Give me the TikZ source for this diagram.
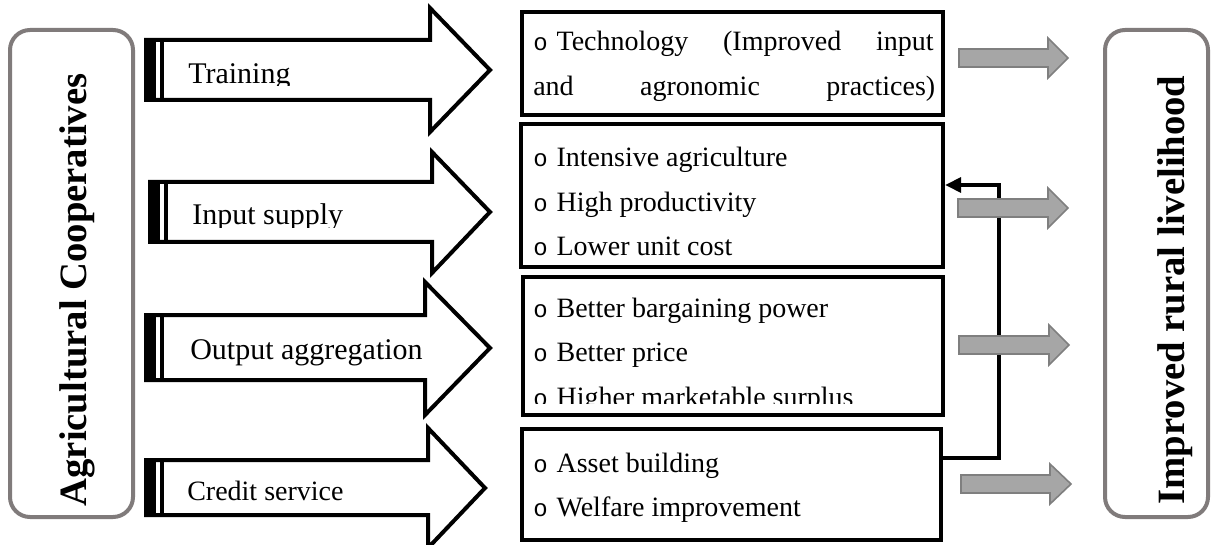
\documentclass[tikz,border=0pt]{standalone}
\usepackage{fontspec}
\setmainfont{Liberation Serif}
\newfontfamily\monofont{Liberation Mono}
\usetikzlibrary{arrows.meta,fit}
\definecolor{sidegray}{RGB}{128,123,123}
\definecolor{arrowfill}{RGB}{166,166,166}
\definecolor{arrowedge}{RGB}{127,127,127}
\newcommand\cbul{\makebox[17.5pt][l]{\fontsize{18pt}{18pt}\monofont o}}

\begin{document}
\begin{tikzpicture}[
  x=0.75pt, y=-0.75pt,
  line cap=butt, line join=miter,
  bigarrow/.style={draw=black, line width=3pt, fill=white},
  infobox/.style={draw=black, line width=3pt, inner sep=0pt},
  sidebox/.style={draw=sidegray, line width=3pt, rounded corners=15pt, inner sep=0pt},
  grayarrow/.style={draw=arrowedge, fill=arrowfill, line width=1.2pt},
  fb/.style={line width=2.8pt, -{Triangle[length=12pt,width=11pt]}},
  lbl/.style={anchor=base west, font=\fontsize{22.5pt}{22.5pt}\selectfont},
  item/.style={anchor=base west},
  sidetxt/.style={rotate=90, font=\bfseries\fontsize{29pt}{29pt}\selectfont},
  every node/.style={inner sep=0pt, font=\fontsize{21pt}{21pt}\selectfont}
]
  \useasboundingbox (0,0) rectangle (1213,545);
  % ---- 两侧圆角框 ----
  \node[sidebox, fit={(10,30) (133,517)}] (coopbox) {};
  \node[sidetxt] (coop) at (77,290) {Agricultural Cooperatives};
  \node[sidebox, fit={(1105,30) (1208,517)}] (livbox) {};
  \node[sidetxt] (liv) at (1175,290) {Improved rural livelihood};
  % ---- 大箭头（左端双竖条） ----
  \draw[bigarrow] (146,40) -- (430,40) -- (430,8) -- (490,70) -- (430,132) -- (430,100) -- (146,100) -- cycle;
  \fill (146,40) rectangle (156,100);
  \fill (160,40) rectangle (164,100);
  \draw[bigarrow] (150,182) -- (432,182) -- (432,152) -- (490,212) -- (432,273) -- (432,242) -- (150,242) -- cycle;
  \fill (150,182) rectangle (160,242);
  \fill (164,182) rectangle (168,242);
  \draw[bigarrow] (146,315) -- (425,315) -- (425,282) -- (490,348) -- (425,415) -- (425,380) -- (146,380) -- cycle;
  \fill (146,315) rectangle (156,380);
  \fill (160,315) rectangle (164,380);
  \draw[bigarrow] (146,460) -- (428,460) -- (428,428) -- (485,488) -- (428,548) -- (428,515) -- (146,515) -- cycle;
  \fill (146,460) rectangle (156,515);
  \fill (160,460) rectangle (164,515);
  % ---- 箭头文字 ----
  \begin{scope}
    \clip (150,40) rectangle (425,86);
    \node[lbl] (training) at (188,84) {Training};
  \end{scope}
  \begin{scope}
    \clip (170,182) rectangle (425,228);
    \node[lbl] (input) at (192,225) {Input supply};
  \end{scope}
  \node[lbl] (output) at (190,359) {Output aggregation};
  \node[anchor=base west] (credit) at (187,500) {Credit service};
  % ---- 结果框 ----
  \node[infobox, fit={(522,12) (943,115)}] (techbox) {};
  \node[item] (tech1) at (533,51) {\cbul\makebox[282.75pt][s]{Technology (Improved input}};
  \node[item] (tech2) at (533,96) {\makebox[301.5pt][s]{and agronomic practices)}};
  \node[infobox, fit={(521,124) (943,267)}] (intbox) {};
  \node[item] (int1) at (533,167) {\cbul Intensive agriculture};
  \node[item] (int2) at (533,212) {\cbul High productivity};
  \node[item] (int3) at (533,256) {\cbul Lower unit cost};
  \node[infobox, fit={(523,277) (943,415)}] (mktbox) {};
  \node[item] (mkt1) at (533,317) {\cbul Better bargaining power};
  \node[item] (mkt2) at (533,361) {\cbul Better price};
  \begin{scope}
    \clip (525,370) rectangle (940,403);
    \node[item] (mkt3) at (533,406) {\cbul Higher marketable surplus};
  \end{scope}
  \node[infobox, fit={(522,429) (941,540)}] (assetbox) {};
  \node[item] (asset1) at (533,472) {\cbul Asset building};
  \node[item] (asset2) at (533,516) {\cbul Welfare improvement};
  % ---- 反馈线：信贷 -> 集约化 ----
  \coordinate (fbdown) at (999,458);
  \coordinate (fbup) at (999,185);
  \draw[fb] (fbdown -| assetbox.east) -- (fbdown) -- (fbup) -- (fbup -| intbox.east);
  % ---- 灰色小箭头 ----
  \draw[grayarrow] (959,49) -- (1048,49) -- (1048,38) -- (1068,58) -- (1048,78) -- (1048,67) -- (959,67) -- cycle;
  \draw[grayarrow] (958,199) -- (1048,199) -- (1048,188) -- (1068,208) -- (1048,228) -- (1048,217) -- (958,217) -- cycle;
  \draw[grayarrow] (959,336) -- (1049,336) -- (1049,325) -- (1069,345) -- (1049,365) -- (1049,354) -- (959,354) -- cycle;
  \draw[grayarrow] (961,475) -- (1050,475) -- (1050,464) -- (1071,484) -- (1050,504) -- (1050,493) -- (961,493) -- cycle;
\end{tikzpicture}
\end{document}
